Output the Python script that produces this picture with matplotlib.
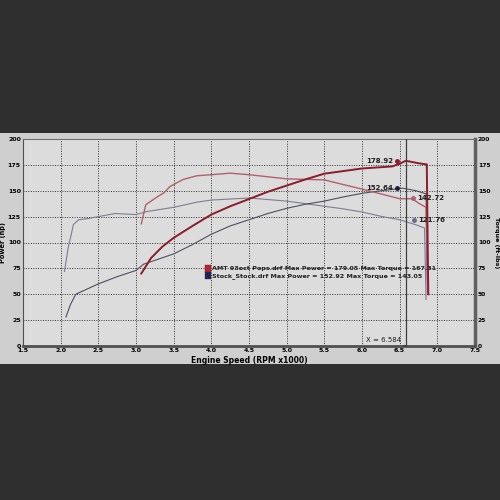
import matplotlib
matplotlib.use("Agg")
import matplotlib.pyplot as plt
from matplotlib.patches import Rectangle

# Dyno data (RPM x1000, value)
amt_power_rpm = [3.07, 3.2, 3.35, 3.5, 3.75, 4.0, 4.25, 4.5, 4.75, 5.0, 5.25, 5.5, 5.75,
                 6.0, 6.2, 6.4, 6.5, 6.58, 6.65, 6.72, 6.8, 6.86, 6.87, 6.88]
amt_power_hp = [70, 85, 96, 104.5, 116, 127, 135, 142, 149, 155, 161, 166.5, 169,
                171.5, 172.5, 173.5, 176, 179, 178, 177, 176, 175.5, 110, 50]

amt_torque_rpm = [3.07, 3.13, 3.2, 3.28, 3.37, 3.45, 3.55, 3.63, 3.81, 4.0, 4.25, 4.5,
                  4.75, 5.0, 5.25, 5.5, 5.75, 6.0, 6.27, 6.5, 6.67, 6.75, 6.85, 6.86, 6.87]
amt_torque_lbft = [118, 136.5, 140, 144, 148, 154, 158, 161, 164.5, 165.5, 167, 165.5,
                   163.5, 161.5, 161, 160.5, 156, 151.6, 146.6, 142.3, 142.3, 138, 134, 90, 52]

stock_power_rpm = [2.07, 2.13, 2.2, 2.35, 2.5, 2.75, 3.0, 3.1, 3.3, 3.5, 3.75, 4.0, 4.25,
                   4.5, 4.75, 5.0, 5.25, 5.5, 5.75, 6.0, 6.25, 6.45, 6.54, 6.72, 6.85, 6.86, 6.87]
stock_power_hp = [28, 40, 50, 55, 60, 67, 73, 79, 84, 89, 98, 108, 116,
                  122, 128, 133, 137, 140, 144, 147.5, 150, 151.6, 152.5, 150, 147, 100, 55]

stock_torque_rpm = [2.05, 2.1, 2.17, 2.24, 2.35, 2.5, 2.72, 3.0, 3.15, 3.5, 3.81, 4.0,
                    4.25, 4.5, 4.75, 5.0, 5.25, 5.5, 5.75, 6.0, 6.27, 6.5, 6.72, 6.83, 6.84, 6.85]
stock_torque_lbft = [72, 95, 117.5, 122, 123, 125, 128, 127, 130, 134, 139, 141,
                     142, 143, 141.5, 140, 137.5, 135, 132.5, 129.5, 125, 122, 117, 114, 80, 45]

# Peak markers
peak_rpm = [6.46, 6.46, 6.68, 6.69]
peak_val = [178.92, 152.64, 142.72, 121.76]
peak_txt = ["178.92", "152.64", "142.72", "121.76"]
peak_col = ["#8a1c2c", "#1c1c40", "#b0606c", "#6a6a88"]
peak_side = ["left", "left", "right", "right"]

cursor_x = 6.584

legend_lines = [
    "AMT 93oct Pops.drf Max Power = 179.05 Max Torque = 167.31",
    "Stock_Stock.drf Max Power = 152.92 Max Torque = 143.05",
]
legend_colors = ["#c0202c", "#20205a"]

x_ticks = [1.5, 2.0, 2.5, 3.0, 3.5, 4.0, 4.5, 5.0, 5.5, 6.0, 6.5, 7.0, 7.5]
y_ticks = [0, 25, 50, 75, 100, 125, 150, 175, 200]

fig = plt.figure(figsize=(5, 5), dpi=100, facecolor="#2f2f2f")

# paper behind the chart
fig.patches.append(Rectangle((0, 0.272), 1, 0.462, transform=fig.transFigure,
                             facecolor="#cfcfcf", edgecolor="none", zorder=-10))

ax = fig.add_axes([0.046, 0.308, 0.904, 0.414])
ax.set_facecolor("#dcdcdc")

ax.plot(stock_torque_rpm, stock_torque_lbft, color="#7c7c94", lw=0.8, zorder=3)
ax.plot(stock_power_rpm, stock_power_hp, color="#4e4e60", lw=0.8, zorder=3)
ax.plot(amt_torque_rpm, amt_torque_lbft, color="#b0606c", lw=1.0, zorder=4)
ax.plot(amt_power_rpm, amt_power_hp, color="#8a1c2c", lw=1.4, zorder=5)

ax.axvline(cursor_x, color="#404040", lw=0.9, zorder=6)
ax.annotate(f"X = {cursor_x:.3f}", xy=(cursor_x, 0), xytext=(6.05, 6),
            fontsize=5, color="#202020", va="center",
            arrowprops=dict(arrowstyle="-", color="#202020", lw=0.6))

for x, v, t, c, side in zip(peak_rpm, peak_val, peak_txt, peak_col, peak_side):
    ax.plot([x], [v], "o", ms=2.5, color=c, zorder=7)
    if side == "left":
        ax.text(x - 0.05, v, t, fontsize=5, fontweight="bold", color="#202020",
                ha="right", va="center", zorder=7)
    else:
        ax.text(x + 0.05, v, t, fontsize=5, fontweight="bold", color="#202020",
                ha="left", va="center", zorder=7)

# legend block
for i, (txt, col) in enumerate(zip(legend_lines, legend_colors)):
    y = 75 - i * 7
    ax.add_patch(Rectangle((3.92, y - 3.3), 0.07, 6.6, facecolor=col,
                           edgecolor="#404040", lw=0.3, zorder=8))
    ax.text(4.01, y, txt, fontsize=4.6, fontweight="bold", color="#202020",
            va="center", ha="left", zorder=8)

ax.set_xlim(1.5, 7.5)
ax.set_ylim(0, 200)
ax.set_xticks(x_ticks)
ax.set_xticklabels([f"{v:.1f}" for v in x_ticks])
ax.set_yticks(y_ticks)
ax.grid(True, color="#303030", ls=(0, (1, 1.5)), lw=0.7)
ax.tick_params(labelsize=4.5, length=0, pad=1.5)
for lab in ax.get_xticklabels() + ax.get_yticklabels():
    lab.set_fontweight("bold")

ax.spines["bottom"].set_linewidth(2.0)
ax.spines["bottom"].set_color("#505050")
ax.spines["right"].set_linewidth(2.5)
ax.spines["right"].set_color("#606060")
ax.spines["left"].set_color("#505050")
ax.spines["top"].set_color("#707070")

ax.set_xlabel("Engine Speed (RPM x1000)", fontsize=5.5, fontweight="bold", labelpad=2)
ax.set_ylabel("Power (hp)", fontsize=4.8, fontweight="bold")
ax.yaxis.set_label_coords(-0.037, 0.5)

ax2 = ax.twinx()
ax2.set_ylim(0, 200)
ax2.set_yticks(y_ticks)
ax2.tick_params(labelsize=4.3, length=0, pad=2)
for lab in ax2.get_yticklabels():
    lab.set_fontweight("bold")
ax2.set_ylabel("Torque (ft-lbs)", fontsize=4.6, fontweight="bold", rotation=-90,
               va="center")
ax2.yaxis.set_label_coords(1.047, 0.5)
for s in ax2.spines.values():
    s.set_visible(False)

fig.savefig("out.png", dpi=100, facecolor=fig.get_facecolor())
